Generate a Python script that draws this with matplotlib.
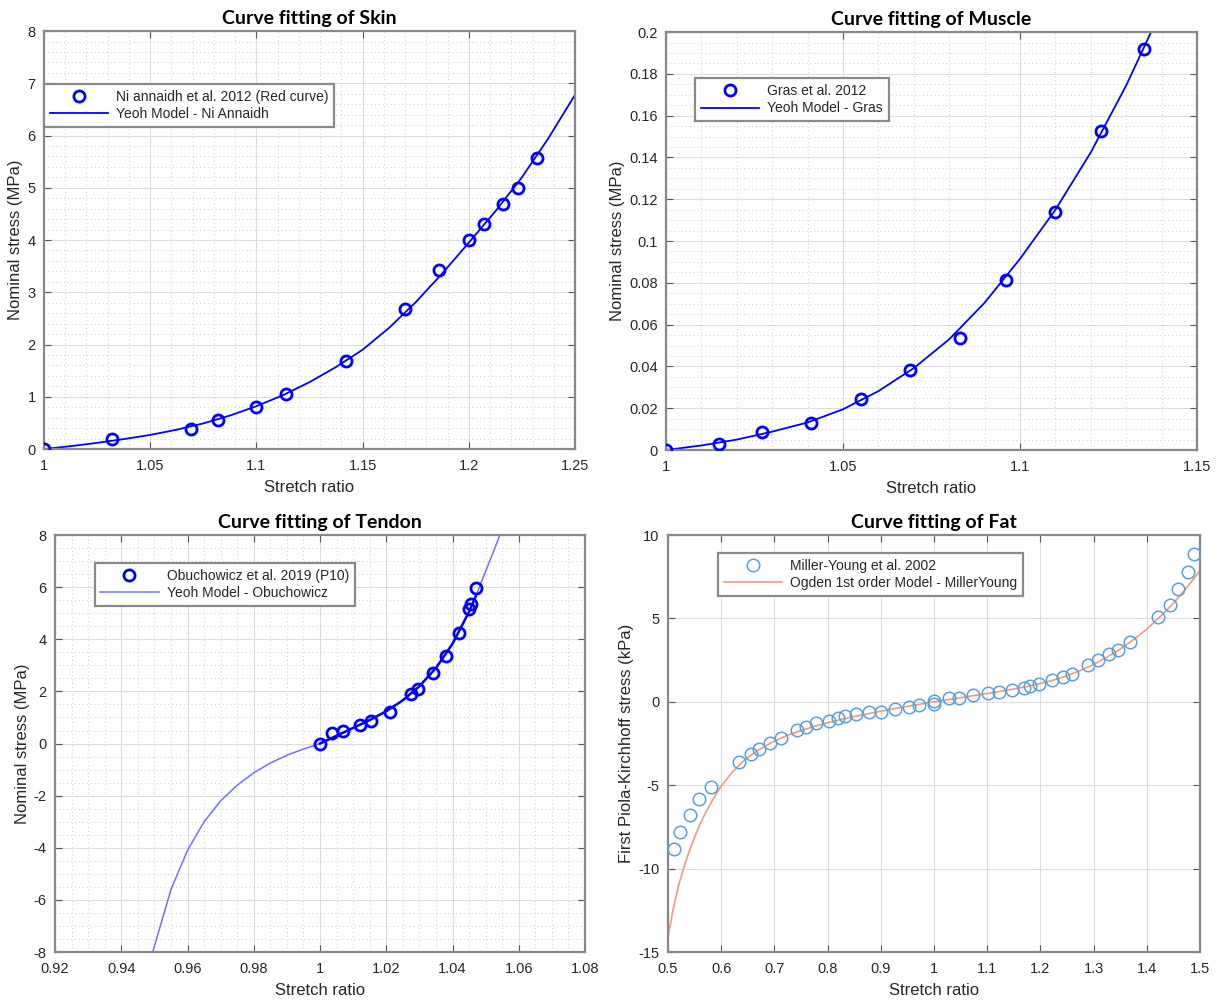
import numpy as np
import matplotlib
matplotlib.use("Agg")
import matplotlib.pyplot as plt
from matplotlib.ticker import MultipleLocator, AutoMinorLocator

plt.rcParams['font.family'] = ['Liberation Sans', 'DejaVu Sans']

# ---------------- data ----------------
# Skin (Ni Annaidh 2012)
skin_x = [1.0, 1.032, 1.069, 1.082, 1.100, 1.114, 1.142, 1.170, 1.186, 1.200, 1.207, 1.216, 1.223, 1.232]
skin_y = [0.0, 0.19, 0.38, 0.56, 0.81, 1.06, 1.69, 2.68, 3.43, 4.00, 4.30, 4.69, 5.00, 5.57]
skin_fit_x = [1.0, 1.0125, 1.025, 1.0375, 1.05, 1.0625, 1.075, 1.0875, 1.10, 1.1125, 1.125,
              1.1375, 1.15, 1.1625, 1.175, 1.1875, 1.20, 1.2125, 1.225, 1.2375, 1.25]
skin_fit_y = [0.0, 0.055, 0.118, 0.19, 0.27, 0.37, 0.49, 0.64, 0.82, 1.03, 1.28,
              1.57, 1.90, 2.32, 2.81, 3.36, 3.95, 4.55, 5.20, 5.95, 6.78]

# Muscle (Gras 2012)
muscle_x = [1.0, 1.015, 1.027, 1.041, 1.055, 1.069, 1.083, 1.096, 1.110, 1.123, 1.135]
muscle_y = [0.0, 0.003, 0.0085, 0.013, 0.0245, 0.0385, 0.0535, 0.0815, 0.114, 0.1525, 0.192]
muscle_fit_x = [1.0, 1.01, 1.02, 1.03, 1.04, 1.05, 1.06, 1.07, 1.08, 1.09, 1.10, 1.11, 1.12, 1.13, 1.137]
muscle_fit_y = [0.0, 0.0022, 0.005, 0.0088, 0.0132, 0.0195, 0.0282, 0.0392, 0.0530, 0.0705,
                0.0915, 0.1150, 0.1425, 0.1745, 0.200]

# Tendon (Obuchowicz 2019)
tendon_x = [1.0, 1.0035, 1.007, 1.012, 1.0155, 1.021, 1.0275, 1.0295, 1.034, 1.038, 1.042, 1.045, 1.0455, 1.047]
tendon_y = [0.0, 0.40, 0.50, 0.70, 0.85, 1.22, 1.90, 2.10, 2.70, 3.35, 4.25, 5.15, 5.35, 5.95]
tendon_fit_x = [0.9495, 0.955, 0.96, 0.965, 0.97, 0.975, 0.98, 0.985, 0.99, 0.995, 1.0,
                1.005, 1.01, 1.015, 1.02, 1.025, 1.03, 1.035, 1.04, 1.045, 1.047, 1.05, 1.0543]
tendon_fit_y = [-8.0, -5.6, -4.1, -3.0, -2.2, -1.6, -1.12, -0.75, -0.45, -0.21, 0.0,
                0.30, 0.60, 0.90, 1.24, 1.66, 2.20, 2.90, 3.83, 5.06, 5.65, 6.61, 8.0]

# Fat (Miller-Young 2002)
fat_x = [0.512, 0.522, 0.541, 0.558, 0.580, 0.633, 0.656, 0.672, 0.692, 0.712, 0.742, 0.759,
         0.779, 0.803, 0.820, 0.832, 0.854, 0.877, 0.900, 0.926, 0.953, 0.972, 1.000, 1.000,
         1.029, 1.047, 1.074, 1.102, 1.123, 1.147, 1.170, 1.180, 1.197, 1.222, 1.243, 1.259,
         1.289, 1.309, 1.329, 1.345, 1.368, 1.421, 1.443, 1.459, 1.478, 1.489]
fat_y = [-8.85, -7.80, -6.76, -5.85, -5.10, -3.62, -3.12, -2.84, -2.49, -2.17, -1.69, -1.53,
         -1.29, -1.13, -0.97, -0.85, -0.70, -0.60, -0.58, -0.42, -0.28, -0.18, -0.10, 0.05,
         0.22, 0.26, 0.44, 0.56, 0.62, 0.70, 0.82, 0.94, 1.10, 1.31, 1.51, 1.69,
         2.19, 2.50, 2.84, 3.10, 3.60, 5.11, 5.83, 6.76, 7.81, 8.85]
fat_fit_x = [0.50, 0.51, 0.52, 0.53, 0.54, 0.55, 0.56, 0.57, 0.58, 0.59, 0.60, 0.62, 0.64,
             0.66, 0.68, 0.70, 0.725, 0.75, 0.775, 0.80, 0.825, 0.85, 0.875, 0.90, 0.925,
             0.95, 0.975, 1.0, 1.025, 1.05, 1.075, 1.10, 1.125, 1.15, 1.175, 1.20, 1.225,
             1.25, 1.275, 1.30, 1.325, 1.35, 1.375, 1.40, 1.425, 1.45, 1.475, 1.50]
fat_fit_y = [-14.1, -12.4, -11.0, -9.9, -8.95, -8.1, -7.35, -6.7, -6.1, -5.55, -5.05, -4.25, -3.6,
             -3.1, -2.7, -2.35, -2.0, -1.72, -1.47, -1.25, -1.06, -0.88, -0.72, -0.56, -0.41,
             -0.27, -0.13, 0.0, 0.125, 0.25, 0.375, 0.50, 0.63, 0.77, 0.92, 1.10, 1.31,
             1.56, 1.88, 2.24, 2.68, 3.16, 3.73, 4.36, 5.10, 5.91, 6.85, 7.86]

BLUE = '#0000ff'
TXT = '#262626'


def style_axes(ax, xlim, ylim, xmaj, ymaj, xsub, ysub, minor=True):
    ax.set_xlim(*xlim)
    ax.set_ylim(*ylim)
    ax.xaxis.set_major_locator(MultipleLocator(xmaj))
    ax.yaxis.set_major_locator(MultipleLocator(ymaj))
    ax.grid(True, which='major', color='#dcdcdc', linewidth=0.8)
    if minor:
        ax.xaxis.set_minor_locator(AutoMinorLocator(xsub))
        ax.yaxis.set_minor_locator(AutoMinorLocator(ysub))
        ax.grid(True, which='minor', color='#c8c8c8', linestyle=(0, (1, 3)), linewidth=0.7)
        ax.tick_params(which='minor', length=0)
    ax.set_axisbelow(True)
    ax.tick_params(which='major', direction='in', length=5, colors='#555555',
                   labelcolor=TXT, labelsize=10.5, top=True, right=True)
    ax.tick_params(axis='x', pad=7)
    ax.tick_params(axis='y', pad=6)
    for s in ax.spines.values():
        s.set_color('#888888')
        s.set_linewidth(1.6)
    ax.xaxis.set_major_formatter(plt.FuncFormatter(lambda v, p: ('%g' % round(v, 6))))
    ax.yaxis.set_major_formatter(plt.FuncFormatter(lambda v, p: ('%g' % round(v, 6))))


def finish(ax, title, ylabel, loc_xy):
    ax.set_title(title, fontfamily='Lato', fontweight='bold', fontsize=14, pad=5)
    ax.set_xlabel('Stretch ratio', fontsize=12, color=TXT, labelpad=5)
    ax.set_ylabel(ylabel, fontsize=12, color=TXT, labelpad=3)
    leg = ax.legend(loc='upper left', bbox_to_anchor=loc_xy, borderaxespad=0,
                    fancybox=False, framealpha=1, edgecolor='#8a8a8a', fontsize=10,
                    handlelength=4.2, handletextpad=0.6, borderpad=0.4, labelspacing=0.25)
    leg.get_frame().set_linewidth(1.6)
    for t in leg.get_texts():
        t.set_color(TXT)


fig = plt.figure(figsize=(12.25, 10.05), dpi=100)

# Skin
ax1 = fig.add_axes([0.0359, 0.5532, 0.4335, 0.4159])
style_axes(ax1, (1, 1.25), (0, 8), 0.05, 1, 5, 5)
ax1.plot(skin_x, skin_y, 'o', mfc='none', mec=BLUE, mew=2, ms=8,
         label='Ni annaidh et al. 2012 (Red curve)', zorder=3)
ax1.plot(skin_fit_x, skin_fit_y, '-', color=BLUE, lw=1.3, label='Yeoh Model - Ni Annaidh')
finish(ax1, 'Curve fitting of Skin', 'Nominal stress (MPa)', (0.0, 0.873))

# Muscle
ax2 = fig.add_axes([0.5437, 0.5522, 0.4335, 0.4159])
style_axes(ax2, (1, 1.15), (0, 0.2), 0.05, 0.02, 5, 4)
ax2.plot(muscle_x, muscle_y, 'o', mfc='none', mec=BLUE, mew=2, ms=8,
         label='Gras et al. 2012', zorder=3)
ax2.plot(muscle_fit_x, muscle_fit_y, '-', color=BLUE, lw=1.3, label='Yeoh Model - Gras')
finish(ax2, 'Curve fitting of Muscle', 'Nominal stress (MPa)', (0.055, 0.889))

# Tendon
ax3 = fig.add_axes([0.0449, 0.0527, 0.4327, 0.4149])
style_axes(ax3, (0.92, 1.08), (-8, 8), 0.02, 2, 4, 4)
ax3.plot(tendon_x, tendon_y, 'o', mfc='none', mec=BLUE, mew=2, ms=8,
         label='Obuchowicz et al. 2019 (P10)', zorder=3)
ax3.plot(tendon_fit_x, tendon_fit_y, '-', color='#7070ff', lw=1.1, label='Yeoh Model - Obuchowicz')
tfx = np.array(tendon_fit_x)
tfy = np.array(tendon_fit_y)
m = (tfx >= 1.0) & (tfx <= 1.047)
ax3.plot(tfx[m], tfy[m], '-', color=BLUE, lw=1.8)
finish(ax3, 'Curve fitting of Tendon', 'Nominal stress (MPa)', (0.075, 0.933))

# Fat
ax4 = fig.add_axes([0.5453, 0.0527, 0.4343, 0.4149])
style_axes(ax4, (0.5, 1.5), (-15, 10), 0.1, 5, 1, 1, minor=False)
ax4.plot(fat_x, fat_y, 'o', mfc='none', mec='#5a9fd6', mew=1.1, ms=9,
         label='Miller-Young et al. 2002', zorder=3)
ax4.plot(fat_fit_x, fat_fit_y, '-', color='#ef9a80', lw=1.2,
         label='Ogden 1st order Model - MillerYoung')
finish(ax4, 'Curve fitting of Fat', 'First Piola-Kirchhoff stress (kPa)', (0.094, 0.957))

fig.savefig('out.png', dpi=100, facecolor='white')
